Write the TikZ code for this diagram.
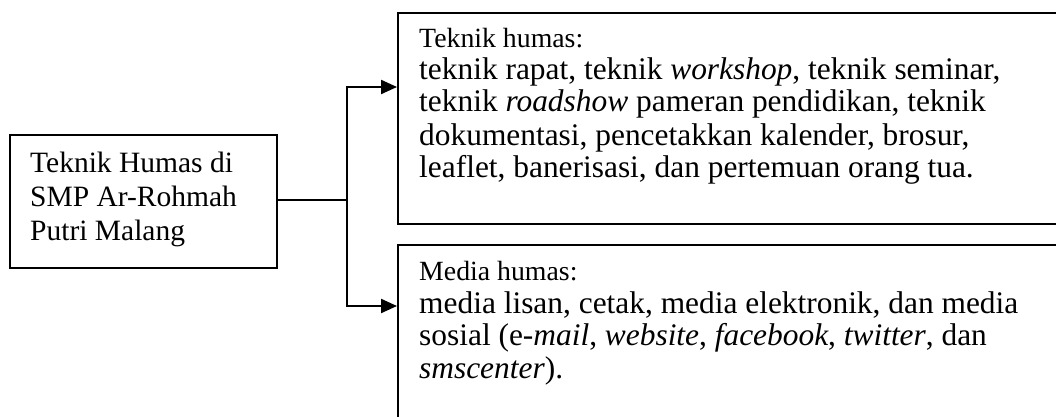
\documentclass[tikz,border=0pt]{standalone}
\usepackage{fontspec}
\setmainfont{Liberation Serif}
\usetikzlibrary{arrows.meta}
\begin{document}
\begin{tikzpicture}[x=1pt,y=-1pt,
  boxline/.style={draw=black,line width=2.2pt},
  conn/.style={line width=2.2pt},
  arr/.style={conn,-{Triangle[length=16pt,width=14pt]}},
  txt/.style={inner sep=0pt,anchor=base west},
  lefttxt/.style={txt,font=\fontsize{29.5pt}{34pt}\selectfont},
  headtxt/.style={txt,font=\fontsize{27.8pt}{32pt}\selectfont},
  bodytxt/.style={txt,font=\fontsize{31.4pt}{32pt}\selectfont}]
\useasboundingbox (0,0) rectangle (1056,417);
\clip (0,0) rectangle (1056,417);
% left box
\node[boxline,anchor=north west,minimum width=267pt,minimum height=133pt,inner sep=0pt] (lb) at (9,134) {};
\node[lefttxt] (l1) at (30,172) {Teknik Humas di};
\node[lefttxt] (l2) at (30,206) {SMP Ar-Rohmah};
\node[lefttxt] (l3) at (30,240) {Putri Malang};
% top right box
\node[boxline,anchor=north west,minimum width=700pt,minimum height=211pt,inner sep=0pt] (tb) at (397,12) {};
\node[headtxt] (t0) at (419,48) {Teknik humas:};
\node[bodytxt] (t1) at (419,80) {teknik rapat, teknik \textit{workshop}, teknik seminar,};
\node[bodytxt] (t2) at (419,112) {teknik \textit{roadshow} pameran pendidikan, teknik};
\node[bodytxt] (t3) at (419,145) {dokumentasi, pencetakkan kalender, brosur,};
\node[bodytxt] (t4) at (419,177) {leaflet, banerisasi, dan pertemuan orang tua.};
% bottom right box
\node[boxline,anchor=north west,minimum width=700pt,minimum height=220pt,inner sep=0pt] (bb) at (397,244) {};
\node[headtxt] (b0) at (419,280) {Media humas:};
\node[bodytxt] (b1) at (419,313) {media lisan, cetak, media elektronik, dan media};
\node[bodytxt] (b2) at (419,345) {sosial (e-\textit{mail}, \textit{website}, \textit{facebook}, \textit{twitter}, dan};
\node[bodytxt] (b3) at (419,378) {\textit{smscenter}).};
% connectors
\coordinate (j) at (347,200);
\coordinate (ta) at (397,87);
\coordinate (ba) at (397,306);
\draw[conn] (lb.east |- j) -- (j);
\draw[arr] (j) |- (ta);
\draw[arr] (j) |- (ba);
\end{tikzpicture}
\end{document}
